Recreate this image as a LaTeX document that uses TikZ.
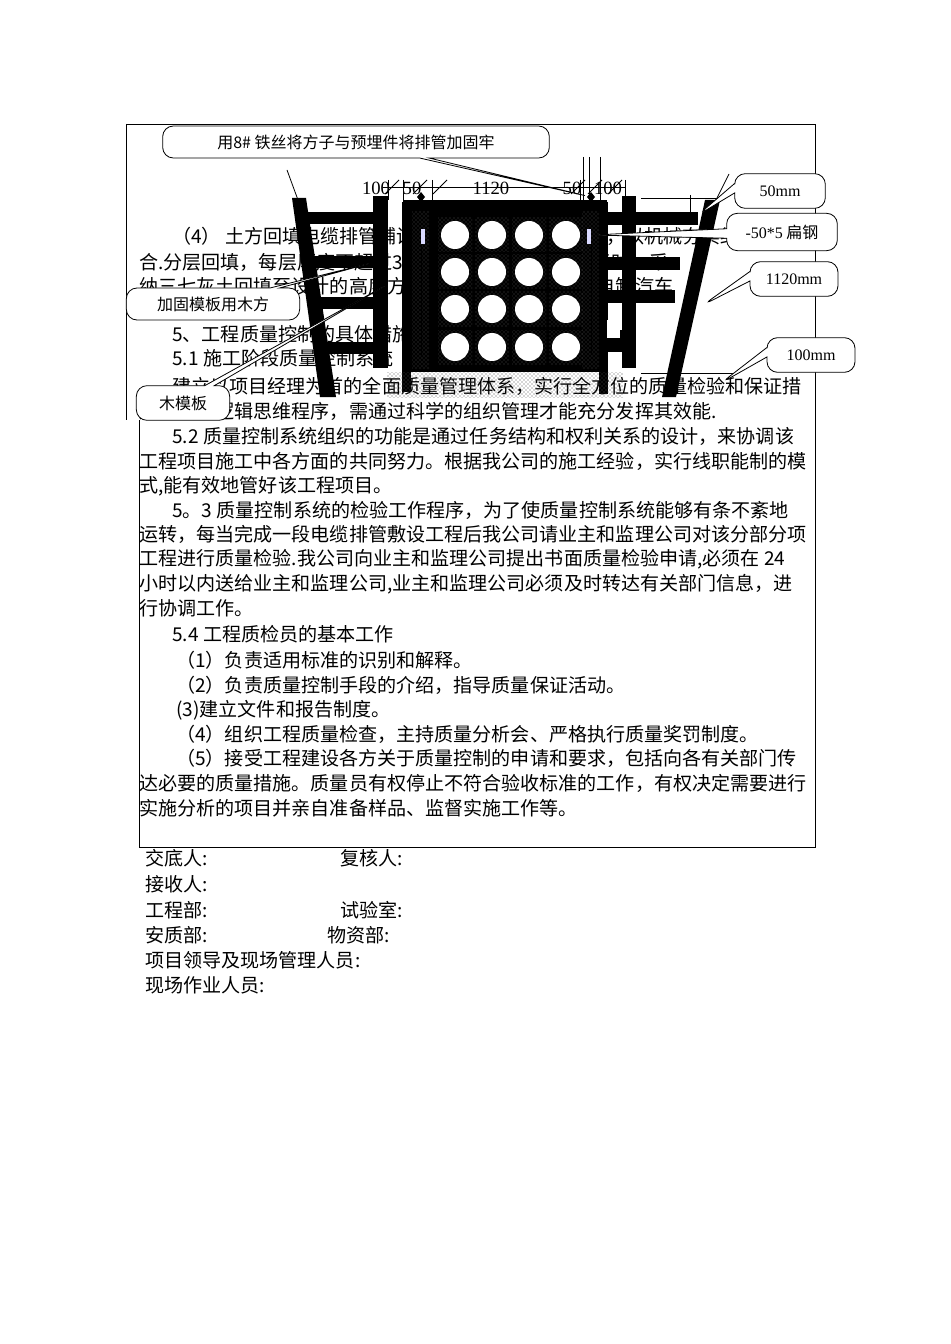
\documentclass[tikz,border=0pt]{standalone}
\usepackage{fontspec}
\setmainfont{Noto Sans CJK SC}
\newfontfamily\latinfont{Liberation Serif}
\usetikzlibrary{shapes.callouts,patterns}
\tikzset{
  txt/.style={anchor=west,inner sep=0pt,font=\fontsize{14.3}{17}\selectfont},
  bar/.style={fill=black,draw=none},
  dots/.style={pattern=crosshatch dots,pattern color=black!70},
  thin/.style={line width=0.6pt},
  note/.style={rectangle callout,draw,fill=white,rounded corners=8pt,line width=0.6pt,
    font=\fontsize{12}{14}\selectfont,inner sep=3pt},
  mm/.style={note,font=\latinfont\fontsize{12}{14}\selectfont},
  dim/.style={font=\latinfont\fontsize{14}{16}\selectfont,inner sep=0pt}
}
\begin{document}
\begin{tikzpicture}[x=0.75pt,y=-0.75pt]
  \useasboundingbox (0,0) rectangle (950,1344);
  % frame
  \draw[thin] (126,124) -- (815,124) -- (815,847) -- (139,847) -- (139,420);
  \draw[thin] (126,124) -- (126,420);

  % body text
  \node[txt] (l1) at (172,236) {（4） 土方回填电缆排管铺设完毕后，及时进行回填，以机械夯实结};
  \node[txt] (l2) at (139,262) {合.分层回填，每层厚度不超过30厘米，当高出地面0.5米时，采};
  \node[txt] (l3) at (139,286) {纳三七灰土回填至设计的高度方可进行剩余回填，严禁自卸汽车};
  \node[txt] (l4) at (172,334) {5、工程质量控制的具体措施};
  \node[txt] (l5) at (172,358) {5.1 施工阶段质量控制系统};
  \node[txt] (l6) at (172,386) {建立以项目经理为首的全面质量管理体系，实行全方位的质量检验和保证措};
  \node[txt] (l7) at (139,411) {施，体现逻辑思维程序，需通过科学的组织管理才能充分发挥其效能.};
  \node[txt] (m1) at (172,436) {5.2 质量控制系统组织的功能是通过任务结构和权利关系的设计，来协调该};
  \node[txt] (m2) at (139,461) {工程项目施工中各方面的共同努力。根据我公司的施工经验，实行线职能制的模};
  \node[txt] (m3) at (139,486) {式,能有效地管好该工程项目。};
  \node[txt] (n1) at (172,510) {5。3 质量控制系统的检验工作程序，为了使质量控制系统能够有条不紊地};
  \node[txt] (n2) at (139,534) {运转，每当完成一段电缆排管敷设工程后我公司请业主和监理公司对该分部分项};
  \node[txt] (n3) at (139,559) {工程进行质量检验.我公司向业主和监理公司提出书面质量检验申请,必须在 24};
  \node[txt] (n4) at (139,584) {小时以内送给业主和监理公司,业主和监理公司必须及时转达有关部门信息，进};
  \node[txt] (n5) at (139,608) {行协调工作。};
  \node[txt] (p0) at (172,634) {5.4 工程质检员的基本工作};
  \node[txt] (p1) at (176,660) {（1）负责适用标准的识别和解释。};
  \node[txt] (p2) at (176,685) {（2）负责质量控制手段的介绍，指导质量保证活动。};
  \node[txt] (p3) at (176,710) {(3)建立文件和报告制度。};
  \node[txt] (p4) at (176,734) {（4）组织工程质量检查，主持质量分析会、严格执行质量奖罚制度。};
  \node[txt] (p5) at (176,758) {（5）接受工程建设各方关于质量控制的申请和要求，包括向各有关部门传};
  \node[txt] (p6) at (139,783) {达必要的质量措施。质量员有权停止不符合验收标准的工作，有权决定需要进行};
  \node[txt] (p7) at (139,808) {实施分析的项目并亲自准备样品、监督实施工作等。};
  % signatures
  \node[txt] (s1) at (145,858) {交底人:};
  \node[txt] (s2) at (340,858) {复核人:};
  \node[txt] (s3) at (145,884) {接收人:};
  \node[txt] (s4) at (145,910) {工程部:};
  \node[txt] (s5) at (340,910) {试验室:};
  \node[txt] (s6) at (145,935) {安质部:};
  \node[txt] (s7) at (327,935) {物资部:};
  \node[txt] (s8) at (145,960) {项目领导及现场管理人员:};
  \node[txt] (s9) at (145,985) {现场作业人员:};

  % formwork, left side
  \fill[bar] (292,198) -- (306,198) -- (336,397) -- (320,397) -- cycle;
  \foreach \y/\xa in {218/300,262/306,303/312,348/318}
    \fill[bar] (\xa,\y-6) rectangle (375,\y+6);
  \fill[bar] (373,196) rectangle (388,368);
  \fill[bar] (402,202) rectangle (411,392);
  % formwork, right side
  \fill[bar] (705,200) -- (720,200) -- (676,397) -- (662,397) -- cycle;
  \fill[bar] (604,212) rectangle (698,225);
  \fill[bar] (604,257) rectangle (680,270);
  \fill[bar] (604,290) rectangle (675,303);
  \fill[bar] (604,330) rectangle (622,352);
  \fill[bar] (622,196) rectangle (636,368);
  \fill[bar] (599,202) rectangle (608,394);
  \fill[white] (607,320) rectangle (620,338);

  % pipe bank
  \fill[dots] (387,372) rectangle (623,397);
  \fill[bar] (403,200) rectangle (607,372);
  \fill[dots] (412,212) rectangle (429,368);
  \fill[dots] (582,212) rectangle (599,368);
  \foreach \cx in {455,492,529,566}
    \foreach \cy in {235,272,309,347} {
      \fill[dots] (\cx-17,\cy-17) rectangle (\cx+17,\cy+17);
      \fill[white] (\cx,\cy) circle (14);
    }
  \fill[blue!15] (421,229) rectangle (425,244);
  \fill[blue!15] (587,229) rectangle (591,244);
  \draw[thin] (421,244) -- (421,355);
  \draw[thin] (591,244) -- (591,355);

  % dimensions
  \draw[thin] (383,187) -- (625,187);
  \foreach \x in {388,403,432,580,600,625}
    \draw[thin] (\x,180) -- (\x,200);
  \foreach \x in {583,589,600}
    \draw[thin] (\x,157) -- (\x,200);
  \foreach \x in {392,420,440,578,595,615}
    \draw[thin] (\x-7,194) -- (\x+7,180);
  \node[dim] (d1) at (376,188) {100};
  \node[dim] (d2) at (412,188) {50};
  \node[dim] (d3) at (491,188) {1120};
  \node[dim] (d4) at (572,188) {50};
  \node[dim] (d5) at (608,188) {100};
  \fill (421,192) -- (425,197) -- (421,202) -- (417,197) -- cycle;
  \fill (591,192) -- (595,197) -- (591,202) -- (587,197) -- cycle;
  \draw[thin] (641,198) -- (720,198);
  \draw[thin] (690,195) -- (690,215);
  \draw[thin] (641,373) -- (735,373);
  \draw[thin] (287,170) -- (298,200);
  \draw[thin] (729,174) -- (716,200);

  % callouts
  \node[note,minimum width=290,minimum height=24,
    callout absolute pointer={(591,197)}] (wire) at (356,142) {用8\# 铁丝将方子与预埋件将排管加固牢};
  \node[mm,minimum width=68,minimum height=26,
    callout absolute pointer={(698,215)}] (c50) at (780,191) {50mm};
  \node[note,minimum width=83,minimum height=28,
    callout absolute pointer={(592,235)}] (steel) at (782,232) {{\latinfont -50*5} 扁钢};
  \node[mm,minimum width=66,minimum height=26,
    callout absolute pointer={(703,305)}] (c1120) at (794,279) {1120mm};
  \node[mm,minimum width=66,minimum height=26,
    callout absolute pointer={(721,383)}] (c100) at (811,355) {100mm};
  \node[note,minimum width=130,minimum height=24,
    callout absolute pointer={(375,262)}] (batten) at (213,304) {加固模板用木方};
  \node[note,minimum width=70,minimum height=26,
    callout absolute pointer={(390,283)}] (board) at (183,403) {木模板};
\end{tikzpicture}
\end{document}
